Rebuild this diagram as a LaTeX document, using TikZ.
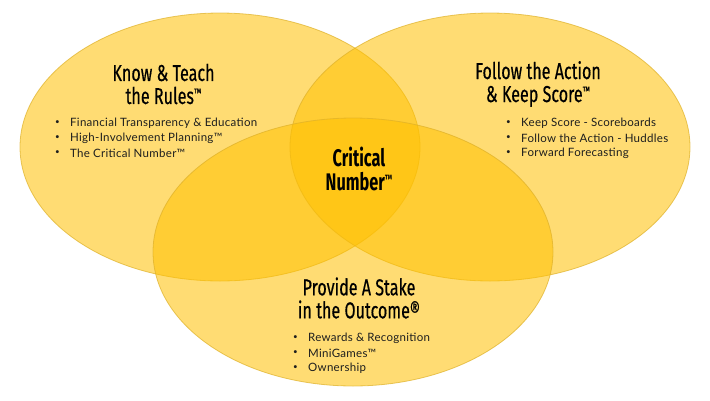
\documentclass[tikz,border=0pt]{standalone}
\usepackage{fontspec}
\setmainfont[LetterSpace=2.5]{Lato}
\newfontfamily\headfont[FakeStretch=0.7,FakeBold=0.4]{Fira Sans}
\newfontfamily\corefont[FakeStretch=0.68]{Fira Sans Bold}
\usetikzlibrary{positioning}
\pgfdeclarelayer{background}
\pgfdeclarelayer{foreground}
\pgfsetlayers{background,main,foreground}
\definecolor{gold}{RGB}{255,192,0}
\definecolor{goldline}{RGB}{222,176,40}
\definecolor{ink}{RGB}{30,30,30}
\newcommand\bigtm{\raisebox{7pt}{\fontsize{12}{12}\selectfont ™}}

\begin{document}
\begin{tikzpicture}[x=1pt,y=-1pt,
  ring/.style={fill=gold,fill opacity=0.55,draw=goldline,draw opacity=0.7,line width=0.8pt},
  head/.style={align=center,inner sep=0pt,text=black,font=\headfont\fontsize{23}{23}\selectfont},
  core/.style={align=center,inner sep=0pt,text=black,font=\corefont\fontsize{24}{24}\selectfont},
  item/.style={anchor=west,inner sep=0pt,text=ink,font=\fontsize{11.5}{13}\selectfont},
  dot/.style={inner sep=0pt,text=ink,font=\fontsize{8}{8}\selectfont}]
\useasboundingbox (0,0) rectangle (710,400);
\begin{pgfonlayer}{background}
\draw[ring] (220,147) ellipse [x radius=200, y radius=134]; %know
\draw[ring] (490,147) ellipse [x radius=200, y radius=134]; %follow
\draw[ring] (353,252) ellipse [x radius=200, y radius=134]; %stake
\end{pgfonlayer}
\begin{pgfonlayer}{foreground}
% know & teach
\node[head] (know) at (163.5,84) {Know \& Teach\\the Rules\bigtm};
\node[item] (k1) at (70,123) {Financial Transparency \& Education};
\node[item] (k2) at (70,138) {High-Involvement Planning™};
\node[item] (k3) at (70,153) {The Critical Number™};
\node[dot,left=10pt of k1.west] (kd1) {•};
\node[dot,left=10pt of k2.west] (kd2) {•};
\node[dot,left=10pt of k3.west] (kd3) {•};
% follow the action
\node[head] (follow) at (538,84) {Follow the Action\\\& Keep Score\bigtm};
\node[item] (f1) at (521,123) {Keep Score - Scoreboards};
\node[item] (f2) at (521,138) {Follow the Action - Huddles};
\node[item] (f3) at (521,153) {Forward Forecasting};
\node[dot,left=10pt of f1.west] (fd1) {•};
\node[dot,left=10pt of f2.west] (fd2) {•};
\node[dot,left=10pt of f3.west] (fd3) {•};
% provide a stake
\node[head] (stake) at (359,298) {Provide A Stake\\in the Outcome®};
\node[item] (s1) at (308,338) {Rewards \& Recognition};
\node[item] (s2) at (308,353) {MiniGames™};
\node[item] (s3) at (308,368) {Ownership};
\node[dot,left=10pt of s1.west] (sd1) {•};
\node[dot,left=10pt of s2.west] (sd2) {•};
\node[dot,left=10pt of s3.west] (sd3) {•};
% centre
\node[core] (crit) at (359,169) {Critical\\Number\bigtm};
\end{pgfonlayer}
\end{tikzpicture}
\end{document}
